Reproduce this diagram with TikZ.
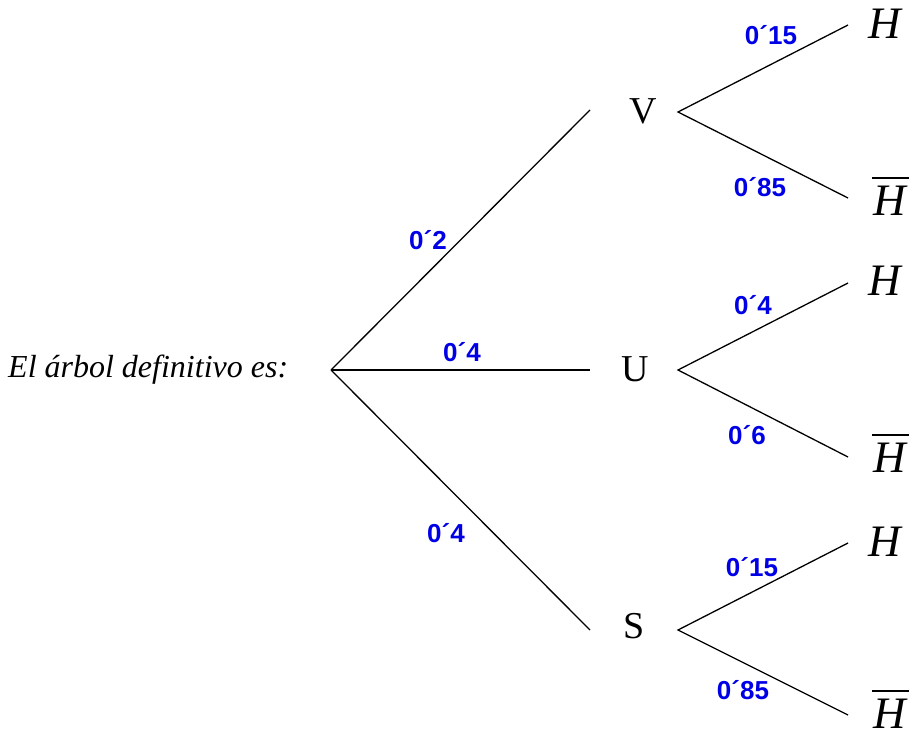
\documentclass[tikz,border=0pt]{standalone}
\usepackage{fontspec}
\setmainfont{Liberation Serif}
\newfontfamily\probfont{Liberation Sans}
\definecolor{probblue}{RGB}{0,0,230}
\begin{document}
\begin{tikzpicture}[x=1pt,y=-1pt,
  edge/.style={draw=black,line width=1.3pt},
  bar/.style={draw=black,line width=1.6pt},
  prob/.style={text=probblue,font=\probfont\bfseries\fontsize{26}{26}\selectfont,inner sep=0pt},
  lvl/.style={font=\fontsize{38}{38}\selectfont,inner sep=0pt},
  leaf/.style={font=\itshape\fontsize{45}{45}\selectfont,inner sep=0pt}]
\useasboundingbox (0,0) rectangle (912,733);
\node[font=\itshape\fontsize{32}{32}\selectfont,anchor=west,inner sep=0pt] (t) at (8,370) {El árbol definitivo es:};
\coordinate (r) at (331,370);
\coordinate (vin) at (590,110);
\coordinate (uin) at (590,370);
\coordinate (sin) at (590,630);
\node[lvl] (V) at (643,111) {V};
\node[lvl] (U) at (635,369) {U};
\node[lvl] (S) at (634,626) {S};
\coordinate (vout) at (678,112);
\coordinate (uout) at (678,370);
\coordinate (sout) at (678,630);
\coordinate (vh) at (848,25);  \coordinate (vhb) at (848,198);
\coordinate (uh) at (848,283); \coordinate (uhb) at (848,457);
\coordinate (sh) at (848,543); \coordinate (shb) at (848,715);
\node[leaf] (VH) at (885,24) {H};
\node[leaf] (VHb) at (890,201) {H};
\node[leaf] (UH) at (885,281) {H};
\node[leaf] (UHb) at (890,458) {H};
\node[leaf] (SH) at (885,542) {H};
\node[leaf] (SHb) at (890,714) {H};
\draw[bar] ([xshift=-18pt,yshift=23pt]VHb.center) -- ([xshift=19pt,yshift=23pt]VHb.center);
\draw[bar] ([xshift=-18pt,yshift=23pt]UHb.center) -- ([xshift=19pt,yshift=23pt]UHb.center);
\draw[bar] ([xshift=-18pt,yshift=23pt]SHb.center) -- ([xshift=19pt,yshift=23pt]SHb.center);
\draw[edge] (r) -- (vin);
\draw[edge] (r) -- (uin);
\draw[edge] (r) -- (sin);
\draw[edge] (vh) -- (vout) -- (vhb);
\draw[edge] (uh) -- (uout) -- (uhb);
\draw[edge] (sh) -- (sout) -- (shb);
\node[prob] (p1) at (428,240) {0´2};
\node[prob] (p2) at (462,352) {0´4};
\node[prob] (p3) at (446,533) {0´4};
\node[prob] (p4) at (771,35) {0´15};
\node[prob] (p5) at (760,187) {0´85};
\node[prob] (p6) at (753,305) {0´4};
\node[prob] (p7) at (747,435) {0´6};
\node[prob] (p8) at (752,567) {0´15};
\node[prob] (p9) at (743,690) {0´85};
\end{tikzpicture}
\end{document}
